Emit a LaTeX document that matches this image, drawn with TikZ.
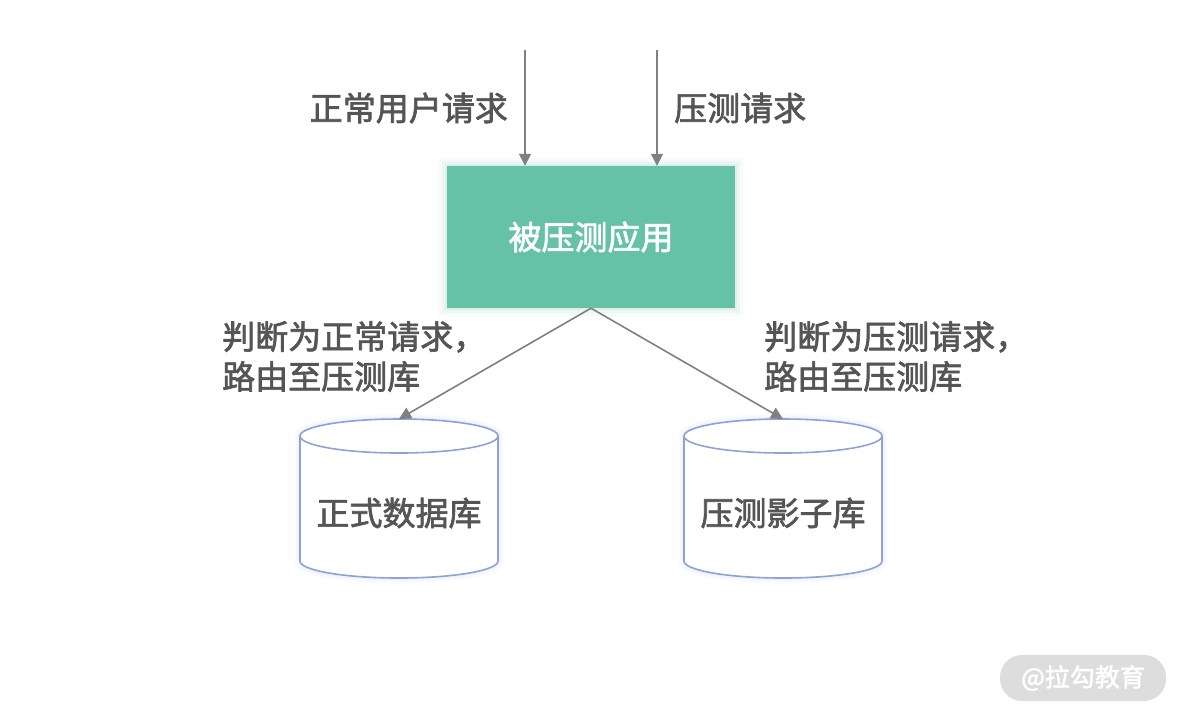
\documentclass[tikz,border=0pt]{standalone}
\usepackage{fontspec}
\setmainfont{Noto Sans CJK SC}[FakeBold=2]
\usetikzlibrary{arrows.meta}
\definecolor{txt}{RGB}{85,85,85}
\definecolor{boxgreen}{RGB}{102,194,165}
\definecolor{arrowgray}{RGB}{128,128,128}
\definecolor{cylblue}{RGB}{143,162,212}
\definecolor{wmgray}{RGB}{221,221,221}
\tikzset{
  lbl/.style={text=txt, font=\fontsize{33}{40}\selectfont, inner sep=0pt},
  conn/.style={draw=arrowgray, line width=1.6pt, -{Triangle[length=12pt,width=12pt]}},
  cyl/.style={draw=cylblue, line width=1.6pt, fill=white},
}
\begin{document}
\begin{tikzpicture}[x=1pt,y=-1pt]
\useasboundingbox[fill=white] (0,0) rectangle (1182,716);
% app box
\foreach \g/\o in {8/0.05,5/0.07,2/0.1}{
  \fill[boxgreen, opacity=\o] (447-\g,166-\g) rectangle (735+\g,308+\g);
}
\node[fill=boxgreen, minimum width=288pt, minimum height=142pt, inner sep=0pt,
      text=white, font=\fontsize{33}{40}\selectfont] (app) at (591,237) {被压测应用};
% top sources
\coordinate (s1) at (525,50);
\coordinate (s2) at (657,50);
\draw[conn] (s1) -- (s1 |- app.north);
\draw[conn] (s2) -- (s2 |- app.north);
\node[lbl, anchor=east] (l1) at (508,108) {正常用户请求};
\node[lbl, anchor=west] (l2) at (674,108) {压测请求};
% cylinders
\foreach \cx/\nm in {399/dbA, 783/dbB}{
  \foreach \g/\o in {6/0.03,4/0.04,2/0.06}{
    \draw[cylblue, opacity=\o, line width=2*\g pt, line join=round] (\cx-99,436) -- (\cx-99,561) arc[start angle=180,end angle=0,x radius=99,y radius=17] -- (\cx+99,436) arc[start angle=0,end angle=-180,x radius=99,y radius=17] -- cycle;
  }
  \path[cyl] (\cx-99,436) -- (\cx-99,561) arc[start angle=180,end angle=0,x radius=99,y radius=17] -- (\cx+99,436) arc[start angle=0,end angle=-180,x radius=99,y radius=17] -- cycle;
  \draw[cylblue, line width=1.6pt] (\cx-99,436) arc[start angle=180,end angle=0,x radius=99,y radius=17];
  \coordinate (\nm) at (\cx,419);
}
\node[lbl] (dbAt) at (399,513) {正式数据库};
\node[lbl] (dbBt) at (783,513) {压测影子库};
% diagonal connectors
\draw[conn] (app.south) -- (dbA);
\draw[conn] (app.south) -- (dbB);
\node[lbl, anchor=north west, align=left] (l3) at (222,321) {判断为正常请求，\\路由至压测库};
\node[lbl, anchor=north west, align=left] (l4) at (764,321) {判断为压测请求，\\路由至压测库};
% watermark
\node[fill=wmgray, rounded corners=22pt, minimum width=166pt, minimum height=46pt, inner sep=0pt,
      text=white, font=\fontsize{25}{28}\selectfont] (wm) at (1083,678) {@拉勾教育};
\end{tikzpicture}
\end{document}
